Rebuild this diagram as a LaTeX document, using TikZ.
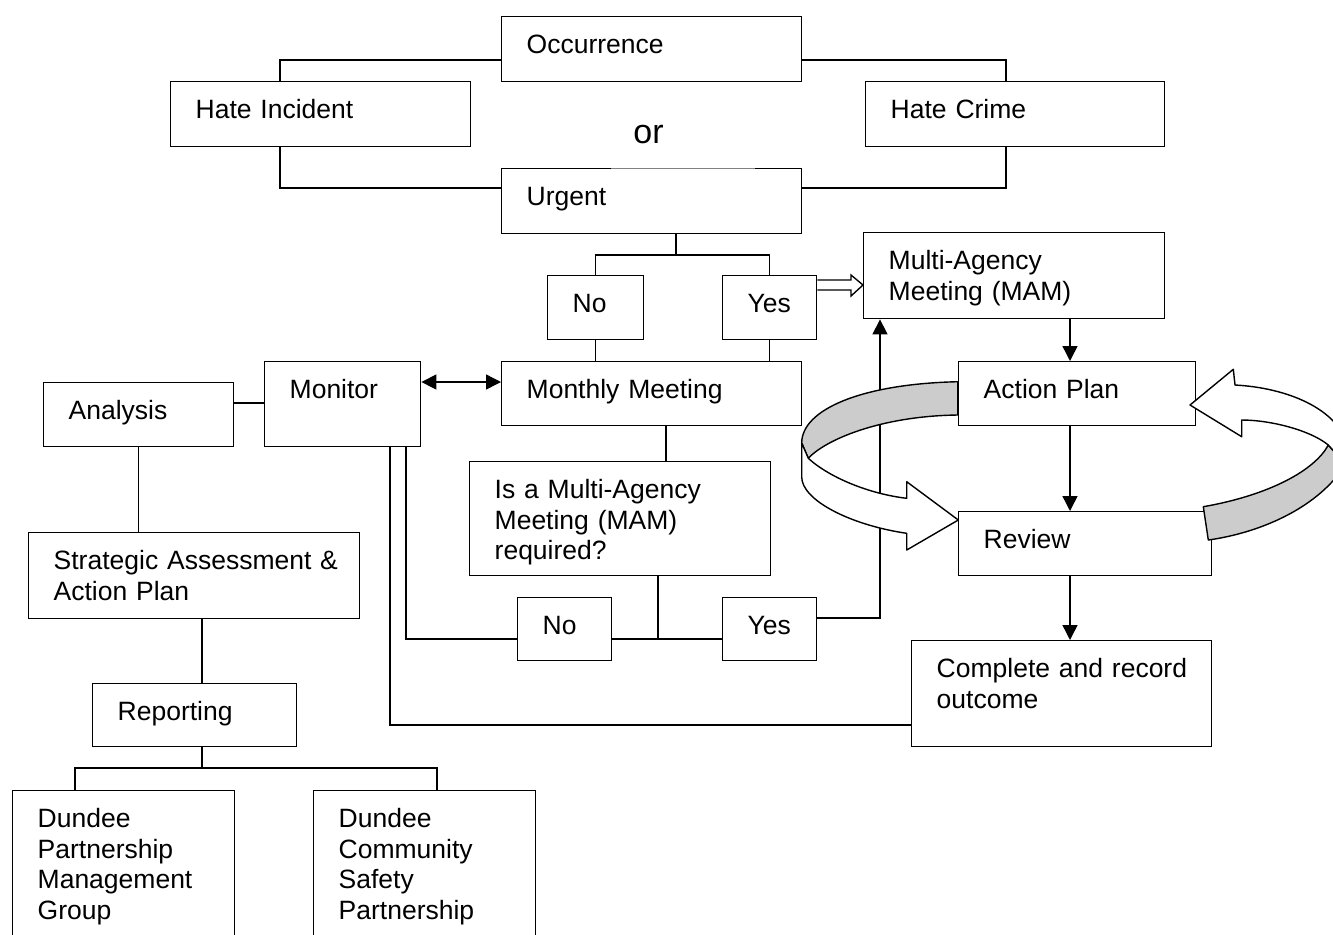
\documentclass[tikz,border=0pt]{standalone}
\usepackage{fontspec}
\setmainfont{Liberation Sans}
\usetikzlibrary{arrows.meta}
\definecolor{ribbongray}{gray}{0.8}
\tikzset{
box/.style 2 args={draw, anchor=north west, inner sep=0pt, align=left,
  text width=#1*0.5pt, text height=18.5pt, text depth=#2*0.5pt-18.5pt,
  execute at begin node={\leftskip=12.5pt}}, % text sits top left in each box
ribbon/.style={draw, line join=round},
}

\begin{document}
\begin{tikzpicture}[x=0.5pt, y=-0.5pt, line width=0.7pt,
    font=\fontsize{13.25pt}{15.25pt}\selectfont,
    >={Triangle[length=7.5pt, width=7.5pt]}]
    \useasboundingbox (0,0) rectangle (1333,934);
    % boxes
    \node[box={300}{65}] (occ) at (501,16) {Occurrence};
    \node[box={300}{65}] (inc) at (170,81) {Hate Incident};
    \node[box={299}{65}] (crime) at (865,81) {Hate Crime};
    \node[font=\fontsize{17pt}{20pt}\selectfont] (or) at (648.5,135) {or};
    \node[box={300}{65}] (urgent) at (501,168) {Urgent};
    \node[box={96}{64}] (no1) at (547,275) {No};
    \node[box={94}{64}] (yes1) at (722,275) {Yes};
    \node[box={301}{86}] (mam) at (863,232) {Multi-Agency\\Meeting (MAM)};
    \node[box={300}{64}] (monthly) at (501,361) {Monthly Meeting};
    \node[box={156}{85}] (monitor) at (264,361) {Monitor};
    \node[box={190}{64}] (analysis) at (43,382) {Analysis};
    \node[box={331}{86}] (strategic) at (28,532) {Strategic Assessment \&\\Action Plan};
    \node[box={204}{63}] (reporting) at (92,683) {Reporting};
    \node[box={222}{170}] (dpmg) at (12,790) {Dundee\\Partnership\\Management\\Group};
    \node[box={222}{170}] (dcsp) at (313,790) {Dundee\\Community\\Safety\\Partnership};
    \node[box={301}{114}] (ismam) at (469,461) {Is a Multi-Agency\\Meeting (MAM)\\required?};
    \node[box={94}{63}] (no2) at (517,597) {No};
    \node[box={94}{63}] (yes2) at (722,597) {Yes};
    \node[box={237}{64}] (action) at (958,361) {Action Plan};
    \node[box={253}{64}] (review) at (958,511) {Review};
    \node[box={300}{106}] (complete) at (911,640) {Complete and record\\outcome};
    % top part
    \draw (occ.west |- 0,60) -| (inc.north -| 280,0);
    \draw (occ.east |- 0,60) -| (crime.north -| 1006,0);
    \draw (inc.south -| 280,0) |- (urgent.west |- 0,188);
    \draw (crime.south -| 1006,0) |- (urgent.east |- 0,188);
    \draw[white, line width=1.2pt, postaction={draw, black!50, line width=0.35pt}]
        ([xshift=55pt]urgent.north west) -- ([xshift=-23.5pt]urgent.north east);
    \coordinate (split1) at (676,255);
    \draw (urgent.south -| split1) -- (split1);
    \draw (no1.north) |- (split1) -| (yes1.north);
    \draw (no1.south) -- (no1.south |- monthly.north);
    \draw (yes1.south) -- (yes1.south |- monthly.north);
    \draw[line join=miter] (yes1.east |- 0,280) -- (851,280) -- (851,275)
        -- (mam.west |- 0,285) -- (851,296) -- (851,290) -- (yes1.east |- 0,290);
    % left part
    \draw[<->] (monitor.east |- 0,382) -- (monthly.west |- 0,382);
    \draw (analysis.east |- 0,403) -- (monitor.west |- 0,403);
    \draw (analysis.south) -- (analysis.south |- strategic.north);
    \draw (strategic.south -| 202,0) -- (reporting.north -| 202,0);
    \coordinate (split2) at (202,768);
    \draw (reporting.south -| split2) -- (split2);
    \draw (dpmg.north -| 75,0) |- (split2) -| (dcsp.north -| 437,0);
    % middle part
    \draw (monthly.south -| 666,0) -- (ismam.north -| 666,0);
    \coordinate (split3) at (658,639);
    \draw (ismam.south -| split3) -- (split3);
    \draw (no2.east |- split3) -- (yes2.west |- split3);
    \draw[->] (yes2.east |- 0,618) -| (mam.south -| 880,0);
    \draw (monitor.south -| 406,0) |- (no2.west |- split3);
    \draw (monitor.south -| 390,0) |- (complete.west |- 0,725);
    % right part
    \draw[->] (mam.south -| 1070,0) -- (action.north -| 1070,0);
    \draw[->] (action.south -| 1070,0) -- (review.north -| 1070,0);
    \draw[->] (review.south -| 1070,0) -- (complete.north -| 1070,0);
    % loop round action plan and review
    \draw[ribbon, fill=ribbongray] (957.7,381.7) .. controls (860,384) and (801.7,410) .. (801.7,443)
        -- (808.3,458.3) .. controls (825,440) and (880,416) .. (957.7,415) -- cycle;
    \draw[ribbon, fill=white] (801.7,443) -- (801.7,477) .. controls (801.7,500) and (850,525) .. (906.7,533.3)
        -- (906.7,550) -- (958.3,520) -- (906.7,481.7) -- (906.7,498.3)
        .. controls (870,494) and (830,478) .. (808.3,458.3) -- cycle;
    \draw[ribbon, fill=ribbongray] (1203.3,506.7) .. controls (1270,495) and (1315,470) .. (1328.3,445)
        -- (1340,458) -- (1345,465) .. controls (1320,505) and (1265,532) .. (1208.3,540) -- cycle;
    \draw[ribbon, fill=white] (1328.3,445) .. controls (1310,430) and (1270,420) .. (1241.7,420)
        -- (1241.7,436.7) -- (1190,405) -- (1233.3,369.3) -- (1235,385)
        .. controls (1290,388) and (1335,410) .. (1345,440) -- (1340,458) -- cycle;
\end{tikzpicture}
\end{document}
